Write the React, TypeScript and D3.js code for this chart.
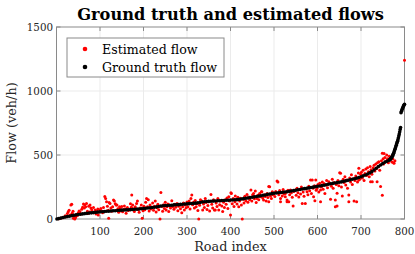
import * as d3 from "d3";

const xTicks = [100, 200, 300, 400, 500, 600, 700, 800];
const yTicks = [0, 500, 1000, 1500];

// [road index, flow]
const groundTruth: [number, number][] = [
  [1, 0], [5, 3], [10, 7], [15, 12], [20, 16], [25, 19], [30, 22], [35, 26], [40, 29], [45, 32],
  [50, 35], [55, 37], [60, 40], [65, 42], [70, 44], [75, 46], [80, 48], [85, 50], [90, 52], [95, 54],
  [100, 56], [105, 57], [110, 58], [115, 60], [120, 61], [125, 62], [130, 64], [135, 65], [140, 66], [145, 68],
  [150, 69], [155, 70], [160, 71], [165, 72], [170, 73], [175, 74], [180, 76], [185, 77], [190, 78], [195, 80],
  [200, 82], [205, 84], [210, 86], [215, 88], [220, 90], [225, 92], [230, 95], [235, 98], [240, 101], [245, 103],
  [250, 105], [255, 106], [260, 107], [265, 108], [270, 110], [275, 111], [280, 112], [285, 114], [290, 115], [295, 117],
  [300, 118], [305, 120], [310, 121], [315, 122], [320, 124], [325, 126], [330, 129], [335, 133], [340, 135], [345, 137],
  [350, 138], [355, 139], [360, 140], [365, 141], [370, 142], [375, 143], [380, 144], [385, 145], [390, 146], [395, 147],
  [400, 148], [405, 149], [410, 150], [415, 151], [420, 153], [425, 156], [430, 159], [435, 162], [440, 164], [445, 167],
  [450, 170], [455, 173], [460, 176], [465, 179], [470, 182], [475, 185], [480, 188], [485, 192], [490, 195], [495, 198],
  [500, 201], [505, 203], [510, 205], [515, 207], [520, 209], [525, 211], [530, 213], [535, 216], [540, 219], [545, 222],
  [550, 225], [555, 228], [560, 231], [565, 234], [570, 237], [575, 240], [580, 243], [585, 246], [590, 249], [595, 252],
  [600, 255], [605, 258], [610, 261], [615, 264], [620, 267], [625, 271], [630, 275], [635, 278], [640, 281], [645, 284],
  [650, 287], [655, 290], [660, 294], [665, 298], [670, 302], [675, 306], [680, 310], [685, 314], [690, 319], [695, 324],
  [700, 330], [705, 337], [710, 344], [715, 352], [720, 360], [725, 370], [730, 383], [735, 397], [740, 410], [745, 422],
  [750, 433], [755, 444], [760, 452], [765, 460], [766, 463], [767, 466], [768, 470], [769, 474], [770, 478],
  [771, 484], [772, 490], [773, 497], [774, 505], [775, 514], [776, 524], [777, 534], [778, 545], [779, 555], [780, 565],
  [781, 576], [782, 587], [783, 598], [784, 608], [785, 620], [786, 635], [787, 650], [788, 665], [789, 682], [790, 700],
  [791, 715], [792, 830], [793, 842], [794, 852], [795, 860], [796, 868], [797, 876], [798, 884], [799, 890], [800, 897],
];

const estimated: [number, number][] = [
  [5, 2], [9, 6], [13, 10], [17, 14], [20, 25], [23, 18], [25, 42], [27, 57], [29, 68], [31, 31],
  [33, 110], [35, 115], [36, 45], [38, 60], [39, 5], [41, 22], [42, 0], [44, 12], [46, 36], [48, 28],
  [50, 48], [52, 62], [54, 57], [56, 40], [58, 76], [60, 92], [62, 118], [64, 86], [65, 109], [67, 95],
  [69, 122], [71, 60], [72, 42], [74, 100], [76, 55], [77, 109], [79, 85], [81, 72], [83, 48], [85, 90],
  [87, 52], [89, 70], [91, 40], [93, 64], [95, 78], [96, 31], [98, 55], [100, 70],
  [102, 82], [104, 62], [106, 48], [108, 90], [110, 58], [111, 175], [113, 160], [115, 135], [117, 100], [119, 68],
  [120, 5], [121, 128], [123, 122], [125, 85], [127, 60], [129, 95], [131, 148], [133, 140], [135, 120], [137, 110],
  [139, 109], [141, 80], [143, 52], [145, 96], [146, 83], [148, 64], [150, 98], [152, 56], [154, 74], [156, 102],
  [158, 78], [160, 45], [163, 90], [165, 66], [168, 72], [170, 120], [172, 92], [173, 187], [175, 110], [177, 80],
  [179, 58], [181, 95], [184, 122], [186, 140], [188, 75], [190, 52], [192, 86], [195, 110], [197, 5], [199, 65],
  [201, 100], [203, 72], [205, 130], [207, 160], [209, 95], [211, 151], [213, 62], [215, 110], [217, 78], [219, 92],
  [221, 125], [223, 68], [225, 100], [227, 140], [229, 55], [231, 88], [233, 115], [235, 72], [238, 0], [240, 208],
  [242, 98], [244, 60], [246, 112], [248, 82], [250, 130], [252, 70], [254, 95], [256, 118], [258, 58], [260, 104],
  [262, 85], [265, 143], [267, 96], [270, 76], [272, 115], [274, 92], [277, 122], [279, 64], [281, 100], [283, 108],
  [285, 80], [288, 49], [290, 96], [292, 125], [294, 70], [296, 110], [298, 88], [300, 132],
  [302, 95], [305, 140], [307, 78], [309, 160], [311, 188], [313, 112], [315, 130], [317, 85], [319, 145], [321, 96],
  [323, 120], [325, 66], [327, 0], [329, 108], [331, 150], [334, 140], [336, 70], [338, 118], [340, 90], [342, 160],
  [344, 128], [346, 75], [348, 105], [350, 135], [352, 62], [355, 192], [357, 115], [359, 86], [361, 150], [363, 70],
  [365, 70], [367, 125], [369, 98], [371, 160], [373, 70], [375, 112], [377, 140], [380, 102], [382, 58], [384, 130],
  [386, 90], [388, 150], [390, 115], [392, 165], [394, 82], [396, 174], [398, 140], [400, 31], [401, 206], [402, 200],
  [404, 120], [406, 160], [408, 98], [410, 135], [411, 180], [413, 150], [415, 118], [417, 170], [419, 96], [421, 140],
  [423, 162], [425, 110], [427, 0], [429, 155], [431, 125], [433, 178], [435, 142], [438, 192], [440, 130], [442, 172],
  [444, 150], [447, 227], [449, 140], [451, 190], [453, 200], [455, 158], [457, 219], [459, 128], [461, 161], [463, 185],
  [465, 150], [467, 200], [469, 174], [471, 213], [472, 213], [474, 165], [476, 148], [478, 190], [480, 175], [482, 140],
  [484, 200], [486, 168], [488, 253], [488, 135], [490, 252], [492, 180], [494, 160], [496, 213], [498, 190], [499, 200],
  [502, 175], [504, 215], [507, 297], [509, 290], [511, 190], [513, 222], [515, 135], [515, 161], [517, 205], [519, 180],
  [521, 230], [523, 195], [526, 174], [526, 200], [528, 210], [530, 135], [530, 148], [532, 225], [534, 135], [536, 190],
  [538, 226], [540, 205], [542, 170], [544, 102], [546, 215], [549, 226], [551, 185], [553, 240], [555, 205], [557, 172],
  [559, 230], [561, 195], [563, 250], [565, 122], [567, 210], [569, 178], [572, 122], [574, 235], [576, 213], [578, 190],
  [580, 255], [582, 220], [584, 305], [586, 200], [588, 304], [590, 240], [591, 174], [593, 260], [594, 143], [596, 304],
  [597, 225], [599, 239],
  [601, 270], [603, 210], [605, 280], [607, 135], [607, 226], [609, 250], [611, 290], [613, 232], [615, 278], [617, 200],
  [619, 265], [621, 300], [623, 245], [626, 291], [628, 275], [630, 154], [632, 255], [634, 310], [636, 240], [638, 285],
  [641, 148], [641, 96], [643, 270], [645, 201], [645, 102], [647, 300], [649, 260], [651, 362], [653, 357], [655, 250],
  [657, 180], [659, 310], [661, 285], [663, 330], [665, 265], [667, 305], [669, 240], [672, 188], [672, 135], [674, 320],
  [676, 290], [678, 345], [680, 270], [682, 315], [684, 140], [686, 300], [688, 335], [690, 135], [692, 290], [694, 360],
  [695, 396], [695, 304], [697, 310], [699, 350],
  [701, 365], [703, 320], [705, 380], [707, 300], [709, 355], [711, 390], [713, 340], [715, 400], [717, 370], [719, 330],
  [721, 410], [722, 291], [723, 385], [725, 350], [726, 291], [728, 400], [730, 420], [732, 375], [734, 430], [736, 395],
  [737, 291], [738, 440], [740, 410], [741, 447], [743, 380], [745, 253], [747, 455], [749, 513], [749, 186], [751, 470],
  [752, 430], [753, 512], [755, 480], [757, 450], [759, 500], [761, 470], [763, 440], [765, 490], [767, 460], [769, 480],
  [771, 445], [773, 470], [775, 440], [776, 435], [778, 455],
  [800, 1240],
];

const W = 415;
const H = 254;
const left = 56.5, right = 404.5, top = 27, bottom = 219;
const font = "'DejaVu Serif', serif";
const axisColor = "#8a8a8a";
const textColor = "#262626";

export default function App() {
  const x = d3.scaleLinear().domain([0, 800]).range([left, right]);
  const y = d3.scaleLinear().domain([0, 1500]).range([bottom, top]);
  const tickLen = 4;

  return (
    <svg width={W} height={H} style={{ position: "absolute", left: 0, top: 0, background: "#fff" }}>
      <rect x={0} y={0} width={W} height={H} fill="#fff" />
      {/* grid */}
      {xTicks.map((t) => (
        <line key={"gx" + t} x1={x(t)} x2={x(t)} y1={top} y2={bottom} stroke="#ebebeb" strokeWidth={1} />
      ))}
      {yTicks.slice(1, -1).map((t) => (
        <line key={"gy" + t} x1={left} x2={right} y1={y(t)} y2={y(t)} stroke="#ebebeb" strokeWidth={1} />
      ))}

      {/* box + ticks */}
      <rect x={left} y={top} width={right - left} height={bottom - top} fill="none" stroke={axisColor} strokeWidth={1} />
      {xTicks.map((t) => (
        <g key={"tx" + t}>
          <line x1={x(t)} x2={x(t)} y1={bottom} y2={bottom - tickLen} stroke={axisColor} />
          <line x1={x(t)} x2={x(t)} y1={top} y2={top + tickLen} stroke={axisColor} />
          <text x={x(t)} y={235} textAnchor="middle" fontFamily={font} fontSize={10.3} fill={textColor}>
            {t}
          </text>
        </g>
      ))}
      {yTicks.map((t) => (
        <g key={"ty" + t}>
          <line x1={left} x2={left + tickLen} y1={y(t)} y2={y(t)} stroke={axisColor} />
          <line x1={right} x2={right - tickLen} y1={y(t)} y2={y(t)} stroke={axisColor} />
          <text x={53} y={y(t) + 3.7} textAnchor="end" fontFamily={font} fontSize={10.3} fill={textColor}>
            {t}
          </text>
        </g>
      ))}

      {estimated.map(([i, v], k) => (
        <circle key={"e" + k} cx={x(i)} cy={y(v)} r={1.5} fill="#ff0000" />
      ))}
      {groundTruth.map(([i, v], k) => (
        <circle key={"g" + k} cx={x(i)} cy={y(v)} r={1.8} fill="#000" />
      ))}

      {/* labels */}
      <text x={(left + right) / 2} y={20} textAnchor="middle" fontFamily={font} fontWeight="bold" fontSize={16.2} fill="#000">
        Ground truth and estimated flows
      </text>
      <text x={(left + right) / 2} y={251} textAnchor="middle" fontFamily={font} fontSize={12.8} fill={textColor}>
        Road index
      </text>
      <text
        transform={`translate(16,${(top + bottom) / 2}) rotate(-90)`}
        textAnchor="middle"
        fontFamily={font}
        fontSize={12.8}
        fill={textColor}
      >
        Flow (veh/h)
      </text>

      {/* legend */}
      <rect x={67} y={38} width={157} height={39} fill="#fff" stroke={axisColor} strokeWidth={1} />
      <circle cx={85} cy={49} r={2.3} fill="#ff0000" />
      <circle cx={85} cy={67} r={2.3} fill="#000" />
      <text x={102} y={53.5} fontFamily={font} fontSize={12.6} fill="#000">
        Estimated flow
      </text>
      <text x={102} y={71.5} fontFamily={font} fontSize={12.6} fill="#000">
        Ground truth flow
      </text>
    </svg>
  );
}
